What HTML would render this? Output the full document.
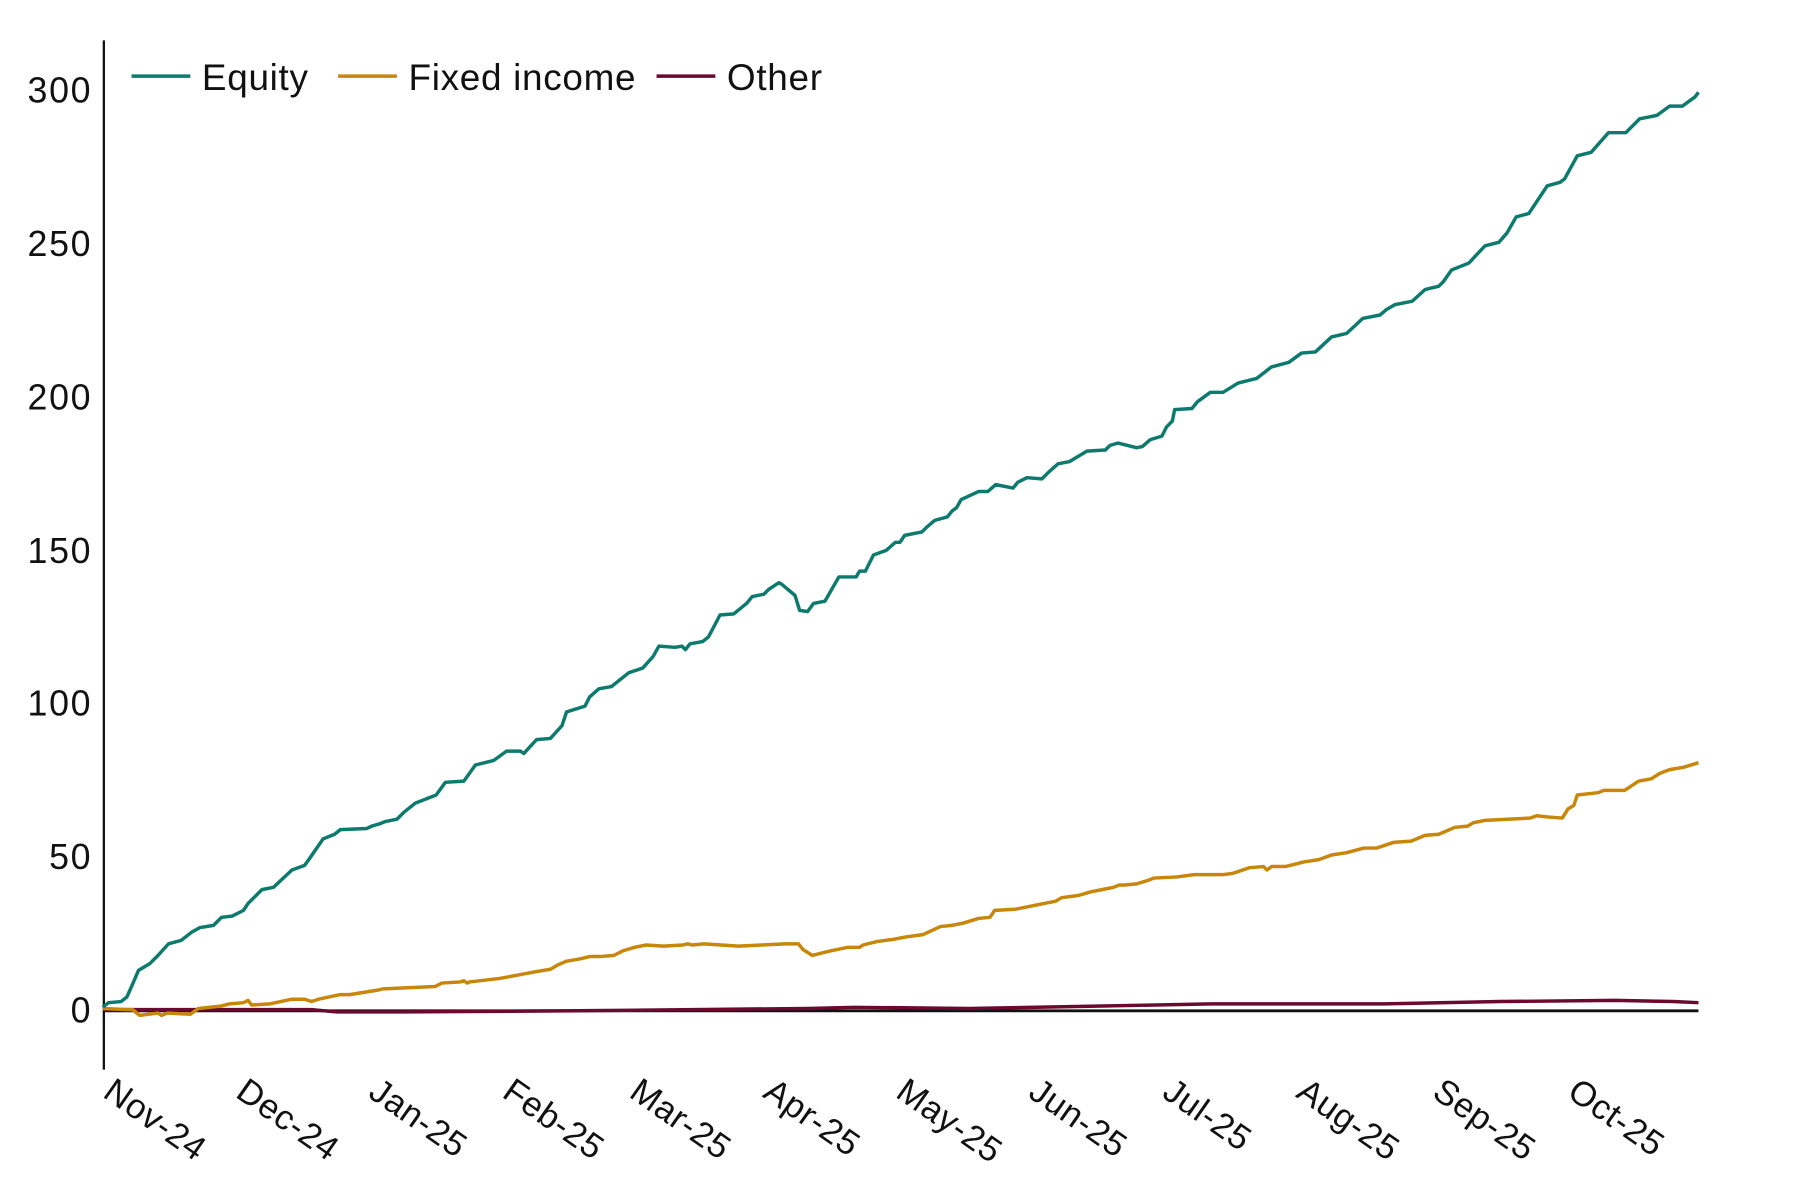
<!DOCTYPE html>
<html><head><meta charset="utf-8"><style>
html,body{margin:0;padding:0;background:#fff;}
svg{display:block;}
text{font-family:"Liberation Sans","DejaVu Sans",sans-serif;fill:#111;}
</style></head><body>
<svg width="1800" height="1200" viewBox="0 0 1560 1040" xmlns="http://www.w3.org/2000/svg">
<g font-size="31" text-anchor="end" letter-spacing="1.5">
<text x="80" y="89">300</text>
<text x="80" y="222">250</text>
<text x="80" y="355">200</text>
<text x="80" y="488">150</text>
<text x="80" y="620">100</text>
<text x="80" y="753">50</text>
<text x="80" y="886">0</text>
</g>
<line x1="90" y1="35" x2="90" y2="927" stroke="#111" stroke-width="2"/>
<line x1="90" y1="876" x2="1472" y2="876" stroke="#111" stroke-width="2.5"/>
<g font-size="30" letter-spacing="0.5">
<text transform="translate(88,950) rotate(35)">Nov-24</text>
<text transform="translate(203,950) rotate(35)">Dec-24</text>
<text transform="translate(318,950) rotate(35)">Jan-25</text>
<text transform="translate(434,950) rotate(35)">Feb-25</text>
<text transform="translate(544,950) rotate(35)">Mar-25</text>
<text transform="translate(660,950) rotate(35)">Apr-25</text>
<text transform="translate(775,950) rotate(35)">May-25</text>
<text transform="translate(890,950) rotate(35)">Jun-25</text>
<text transform="translate(1006,950) rotate(35)">Jul-25</text>
<text transform="translate(1122,950) rotate(35)">Aug-25</text>
<text transform="translate(1240,950) rotate(35)">Sep-25</text>
<text transform="translate(1357,950) rotate(35)">Oct-25</text>
</g>
<polyline fill="none" stroke="#6b0a2e" stroke-width="3" points="90,875 200,875 270,875 292,877 350,877 500,876 700,874 740,873 840,874 950,872 1050,870 1200,870 1300,868 1400,867 1450,868 1472,869"/>
<polyline fill="none" stroke="#c8870a" stroke-width="3" stroke-linejoin="round" points="89,874 110,875 115,875 121,880 137,878 140,880 145,878 165,879 172,874 191,872 199,870 211,869 215,867 218,871 234,870 253,866 264,866 270,868 276,866 295,862 303,862 328,858 332,857 377,855 383,852 399,851 402,850 405,852 407,851 433,848 465,842 477,840 484,836 491,833 503,831 511,829 520,829 532,828 540,824 550,821 560,819 575,820 592,819 596,818 600,819 610,818 625,819 640,820 660,819 680,818 692,818 696,823 704,828 712,826 720,824 735,821 745,821 748,819 760,816 775,814 785,812 800,810 815,803 825,802 835,800 848,796 858,795 862,789 880,788 890,786 905,783 915,781 920,778 935,776 945,773 955,771 965,769 970,767 975,767 985,766 995,763 1000,761 1020,760 1035,758 1060,758 1068,757 1083,752 1095,751 1098,754 1102,751 1114,751 1130,747 1143,745 1154,741 1167,739 1182,735 1193,735 1208,730 1223,729 1235,724 1247,723 1261,717 1272,716 1277,713 1287,711 1326,709 1332,707 1341,708 1354,709 1359,701 1364,698 1367,689 1385,687 1390,685 1408,685 1420,677 1431,675 1439,670 1447,667 1459,665 1472,661"/>
<polyline fill="none" stroke="#0d7a6e" stroke-width="3" stroke-linejoin="round" points="89,873 94,869 105,868 110,864 114,855 120,841 130,835 137,828 146,818 157,815 166,808 173,804 185,802 192,795 201,794 211,789 215,783 227,771 237,769 253,754 264,750 269,743 280,727 290,723 295,719 318,718 322,716 329,714 334,712 344,710 350,704 360,696 378,689 386,678 402,677 412,663 428,659 439,651 451,651 454,653 465,641 477,640 487,629 491,617 507,612 511,604 519,597 530,595 545,583 557,579 566,569 571,560 585,561 591,560 594,563 598,558 609,556 614,552 624,533 636,532 647,523 652,517 662,515 666,511 675,505 677,506 689,516 693,529 700,530 705,523 715,521 727,500 742,500 745,495 750,495 757,481 768,477 776,470 780,470 784,464 799,461 803,457 810,451 821,448 825,443 829,440 833,433 848,426 856,426 863,420 878,423 882,418 890,414 903,415 909,409 917,402 927,400 942,391 958,390 962,386 969,384 985,388 990,387 997,381 1007,378 1011,370 1016,365 1018,355 1033,354 1038,348 1049,340 1060,340 1073,332 1089,328 1102,318 1117,314 1128,306 1140,305 1154,292 1167,289 1181,276 1196,273 1202,268 1209,264 1224,261 1235,251 1247,248 1251,244 1258,234 1273,228 1287,213 1299,210 1306,202 1314,188 1325,185 1341,161 1352,158 1356,155 1367,135 1379,132 1394,115 1409,115 1421,103 1436,100 1447,92 1458,92 1469,84 1472,80"/>
<g font-size="32" letter-spacing="0.6">
<line x1="114" y1="66" x2="165" y2="66" stroke="#0d7a6e" stroke-width="3"/>
<text x="175" y="78">Equity</text>
<line x1="293" y1="66" x2="344" y2="66" stroke="#c8870a" stroke-width="3"/>
<text x="354" y="78">Fixed income</text>
<line x1="569" y1="66" x2="620" y2="66" stroke="#6b0a2e" stroke-width="3"/>
<text x="630" y="78">Other</text>
</g>
</svg>
</body></html>
